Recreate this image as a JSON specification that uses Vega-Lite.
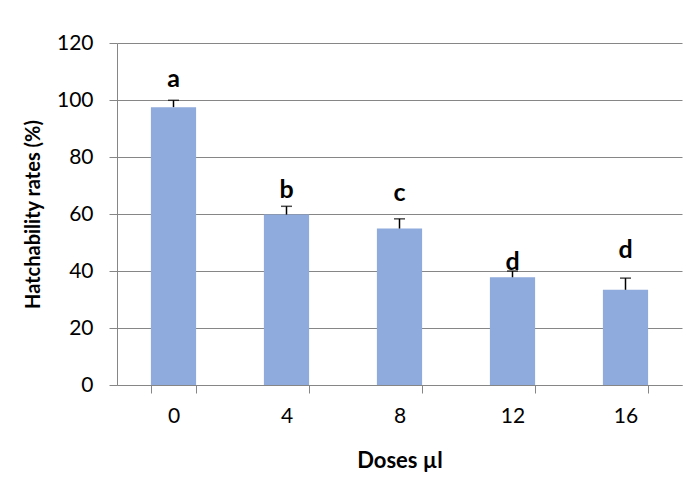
{
  "$schema": "https://vega.github.io/schema/vega-lite/v6.json",
  "autosize": "none",
  "width": 565,
  "height": 342,
  "padding": {"left": 117, "top": 43, "right": 10, "bottom": 110},
  "background": "white",
  "config": {"view": {"stroke": null}, "font": "Lato"},
  "data": {
    "values": [
      {"dose": "0", "mean": 97.5, "upper": 99.9, "letter": "a", "letter_y": 107.4},
      {"dose": "4", "mean": 59.8, "upper": 62.7, "letter": "b", "letter_y": 68.4},
      {"dose": "8", "mean": 54.9, "upper": 58.3, "letter": "c", "letter_y": 67.4},
      {"dose": "12", "mean": 37.8, "upper": 40.0, "letter": "d", "letter_y": 43.2},
      {"dose": "16", "mean": 33.4, "upper": 37.5, "letter": "d", "letter_y": 47.4}
    ]
  },
  "encoding": {
    "x": {
      "field": "dose",
      "type": "ordinal",
      "sort": null,
      "scale": {"paddingInner": 0.6, "paddingOuter": 0.3},
      "axis": {
        "title": "Doses µl",
        "titleFontSize": 22,
        "titleFontWeight": "bold",
        "titleColor": "#000000",
        "titlePadding": 24,
        "labelFontSize": 21,
        "labelColor": "#000000",
        "labelAngle": 0,
        "labelPadding": 12,
        "tickBand": "extent",
        "tickSize": 8,
        "tickColor": "#868686",
        "domainColor": "#868686",
        "grid": false
      }
    }
  },
  "layer": [
    {
      "mark": {"type": "bar", "color": "#8FAADC"},
      "encoding": {
        "y": {
          "field": "mean",
          "type": "quantitative",
          "scale": {"domain": [0, 120], "nice": false},
          "axis": {
            "values": [0, 20, 40, 60, 80, 100, 120],
            "title": "Hatchability rates (%)",
            "titleFontSize": 20,
            "titleFontWeight": "bold",
            "titleColor": "#000000",
            "titlePadding": 13,
            "labelFontSize": 21,
            "labelColor": "#000000",
            "labelPadding": 16,
            "tickSize": 8,
            "tickColor": "#868686",
            "domainColor": "#868686",
            "grid": true,
            "gridColor": "#868686"
          }
        }
      }
    },
    {
      "mark": {"type": "rule", "color": "#000000", "strokeWidth": 1.5},
      "encoding": {
        "y": {"field": "mean", "type": "quantitative"},
        "y2": {"field": "upper"}
      }
    },
    {
      "mark": {"type": "tick", "color": "#000000", "size": 11, "thickness": 1.5},
      "encoding": {
        "y": {"field": "upper", "type": "quantitative"}
      }
    },
    {
      "mark": {"type": "text", "fontSize": 25, "fontWeight": "bold", "color": "#000000", "baseline": "middle"},
      "encoding": {
        "y": {"field": "letter_y", "type": "quantitative"},
        "text": {"field": "letter"}
      }
    }
  ]
}
